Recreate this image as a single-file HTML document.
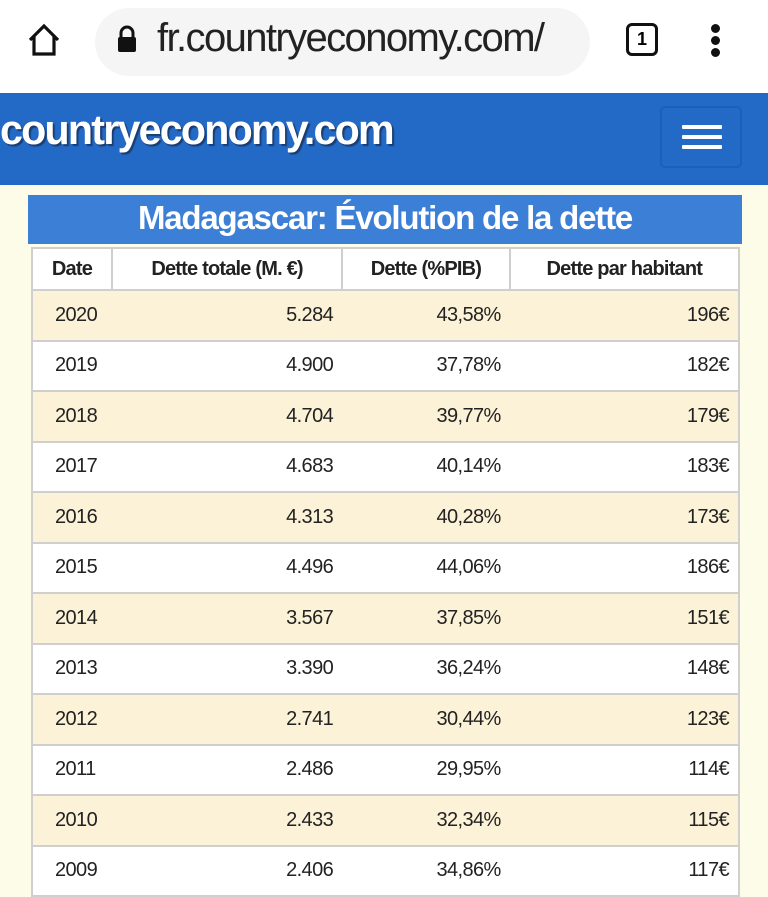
<!DOCTYPE html>
<html><head><meta charset="utf-8"><style>
*{margin:0;padding:0;box-sizing:border-box}
body{width:768px;height:896px;overflow:hidden;background:#fdfce9;font-family:"Liberation Sans",sans-serif;position:relative}
.top{position:absolute;left:0;top:0;width:768px;height:93px;background:#fff}
.pill{position:absolute;left:95px;top:8px;width:495px;height:68px;background:#f4f5f4;border-radius:34px}
.url{position:absolute;left:157px;top:16px;font-size:40px;color:#222;letter-spacing:-1.6px;white-space:nowrap;width:420px;overflow:hidden}
.hdr{position:absolute;left:0;top:93px;width:768px;height:92px;background:#2369c6}
.logo{position:absolute;left:0;top:106px;font-size:42px;font-weight:bold;color:#fff;letter-spacing:-1.8px;text-shadow:2px 2px 1px #1a3d70;transform:scaleX(0.98);transform-origin:left}
.ham{position:absolute;left:660px;top:106px;width:82px;height:62px;border:2px solid #1b5fb8;border-radius:5px}
.ham i{position:absolute;left:20px;width:40px;height:4px;background:#fff;border-radius:1px}
.title{position:absolute;left:28px;top:195px;width:714px;height:49px;background:#3b7fd7;color:#fff;font-weight:bold;font-size:33px;text-align:center;line-height:46px;letter-spacing:-1.2px}
table{position:absolute;left:31px;top:247px;width:709px;border-collapse:collapse;font-size:20px;color:#222;letter-spacing:-0.6px}
td,th{border:2px solid #cfcfcf;height:50.5px;padding:0 9px}
td{border-left:none;border-right:none}
td:first-child{border-left:2px solid #cfcfcf}
td:last-child{border-right:2px solid #cfcfcf}
th{height:42px;background:#fff;font-weight:bold;font-size:20px;color:#222;letter-spacing:-0.8px}
td{text-align:right}
td:first-child{text-align:left;padding-left:22px}
tr.c td{background:#fcf2d7}
tr.w td{background:#fff}
</style></head><body>
<div class="top">
<svg style="position:absolute;left:26px;top:22px" width="36" height="36" viewBox="0 0 36 36"><path d="M4 18 L18 4 L32 18 M8 14 V32 H28 V14" fill="none" stroke="#111" stroke-width="3.2" stroke-linejoin="miter"/></svg>
<div class="pill"></div>
<svg style="position:absolute;left:116px;top:25px" width="22" height="28" viewBox="0 0 22 28"><path d="M5 12 V8 a6 6 0 0 1 12 0 V12" fill="none" stroke="#111" stroke-width="3"/><rect x="2" y="12" width="18" height="15" rx="2" fill="#111"/></svg>
<div class="url">fr.countryeconomy.com/</div>
<div style="position:absolute;left:626px;top:23px;width:32px;height:33px;border:3.5px solid #111;border-radius:6px;font-size:18px;font-weight:bold;text-align:center;line-height:26px">1</div>
<div style="position:absolute;left:711px;top:24px;width:9px;height:9px;border-radius:50%;background:#111"></div>
<div style="position:absolute;left:711px;top:36px;width:9px;height:9px;border-radius:50%;background:#111"></div>
<div style="position:absolute;left:711px;top:48px;width:9px;height:9px;border-radius:50%;background:#111"></div>
</div>
<div class="hdr"></div>
<div class="logo">countryeconomy.com</div>
<div class="ham"><i style="top:17px"></i><i style="top:27px"></i><i style="top:37px"></i></div>
<div class="title">Madagascar: Évolution de la dette</div>
<table>
<colgroup><col style="width:80px"><col style="width:231px"><col style="width:168px"><col style="width:230px"></colgroup>
<tr><th style="text-align:center;padding:0">Date</th><th>Dette totale (M. €)</th><th>Dette (%PIB)</th><th>Dette par habitant</th></tr>
<tr class="c"><td>2020</td><td>5.284</td><td>43,58%</td><td>196€</td></tr>
<tr class="w"><td>2019</td><td>4.900</td><td>37,78%</td><td>182€</td></tr>
<tr class="c"><td>2018</td><td>4.704</td><td>39,77%</td><td>179€</td></tr>
<tr class="w"><td>2017</td><td>4.683</td><td>40,14%</td><td>183€</td></tr>
<tr class="c"><td>2016</td><td>4.313</td><td>40,28%</td><td>173€</td></tr>
<tr class="w"><td>2015</td><td>4.496</td><td>44,06%</td><td>186€</td></tr>
<tr class="c"><td>2014</td><td>3.567</td><td>37,85%</td><td>151€</td></tr>
<tr class="w"><td>2013</td><td>3.390</td><td>36,24%</td><td>148€</td></tr>
<tr class="c"><td>2012</td><td>2.741</td><td>30,44%</td><td>123€</td></tr>
<tr class="w"><td>2011</td><td>2.486</td><td>29,95%</td><td>114€</td></tr>
<tr class="c"><td>2010</td><td>2.433</td><td>32,34%</td><td>115€</td></tr>
<tr class="w"><td>2009</td><td>2.406</td><td>34,86%</td><td>117€</td></tr>
</table>
</body></html>
